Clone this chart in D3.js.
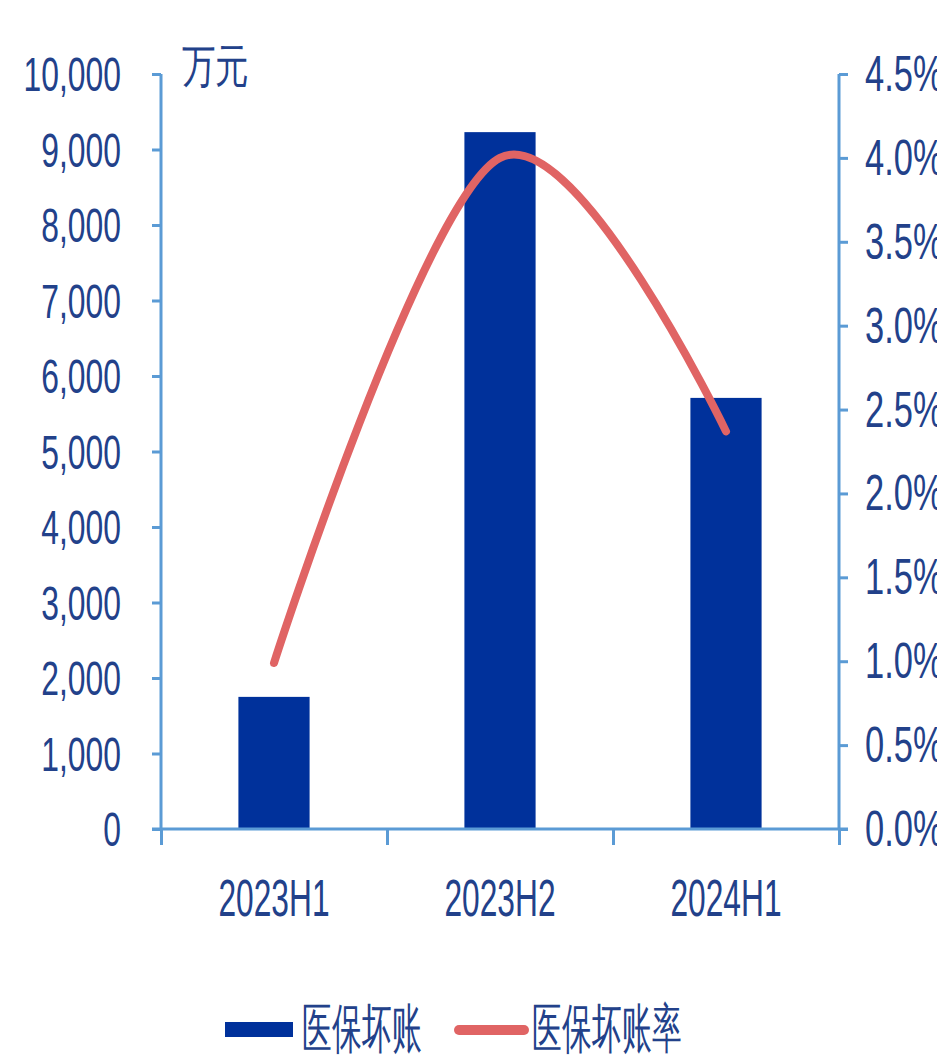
<!DOCTYPE html>
<html>
<head>
<meta charset="utf-8">
<script src="https://cdn.jsdelivr.net/npm/d3@7"></script>
<style>
  html, body { margin: 0; padding: 0; background: #fff; }
  svg { display: block; }
  text { font-family: "Liberation Sans", Arial, sans-serif; fill: #22418a; }
</style>
</head>
<body>
<svg id="chart" width="937" height="1059"></svg>
<script>
// Half-year periods
const categories = ["2023H1", "2023H2", "2024H1"];
// 医保坏账 (万元)
const badDebt = [1750, 9230, 5710];
// 医保坏账率
const badDebtRate = [0.0099, 0.0400, 0.0237];
// Axis ticks
const leftTicks = [0, 1000, 2000, 3000, 4000, 5000, 6000, 7000, 8000, 9000, 10000];
const rightTicks = [0, 0.005, 0.01, 0.015, 0.02, 0.025, 0.03, 0.035, 0.04, 0.045];
const seriesNames = ["医保坏账", "医保坏账率"];

const barColor = "#00319b";
const lineColor = "#e06464";
const axisColor = "#5b9bd5";

const svg = d3.select("#chart");
const plotLeft = 161, plotRight = 839, plotTop = 74, plotBottom = 829;

const x = d3.scaleBand().domain(categories).range([plotLeft, plotRight]).padding(0);
const y = d3.scaleLinear().domain([0, 10000]).range([plotBottom, plotTop]);
const y2 = d3.scaleLinear().domain([0, 0.045]).range([plotBottom, plotTop]);

const fmtL = d3.format(",");
const fmtR = d3.format(".1%");

// Condensed lettering: regular glyphs squeezed horizontally by sx
function squeezedText(g, tx, ty, str, size, anchor, sx) {
  return g.append("text")
    .attr("transform", `translate(${tx},${ty}) scale(${sx},1)`)
    .attr("text-anchor", anchor)
    .attr("font-size", size)
    .text(str);
}

// Bars
const barW = x.bandwidth() * 0.315;
svg.append("g").selectAll("rect")
  .data(categories)
  .join("rect")
  .attr("x", (d) => x(d) + (x.bandwidth() - barW) / 2)
  .attr("y", (d, i) => y(badDebt[i]))
  .attr("width", barW)
  .attr("height", (d, i) => y(0) - y(badDebt[i]))
  .attr("fill", barColor);

// Left axis
const gL = svg.append("g").attr("transform", `translate(${plotLeft},0)`)
  .call(d3.axisLeft(y).tickValues(leftTicks).tickSize(9).tickFormat(""));
// Right axis
const gR = svg.append("g").attr("transform", `translate(${plotRight},0)`)
  .call(d3.axisRight(y2).tickValues(rightTicks).tickSize(9).tickFormat(""));
// Bottom axis with ticks at category boundaries
const boundaries = categories.map((c) => x(c)).concat([plotRight]);
const gB = svg.append("g").attr("transform", `translate(0,${plotBottom})`)
  .call(d3.axisBottom(d3.scaleLinear().domain([plotLeft, plotRight]).range([plotLeft, plotRight]))
    .tickValues(boundaries).tickSize(16).tickFormat(""));

[gL, gR, gB].forEach((g) => {
  g.select(".domain").attr("stroke", axisColor).attr("stroke-width", 3);
  g.selectAll(".tick line").attr("stroke", axisColor).attr("stroke-width", 3);
});
gL.select(".domain").attr("d", `M0,${plotBottom}V${plotTop}`);
gR.select(".domain").attr("d", `M0,${plotBottom}V${plotTop}`);
gB.select(".domain").attr("d", `M${plotLeft - 9},0H${plotRight + 9}`);

// Tick labels
leftTicks.forEach((v) => squeezedText(svg, 121, y(v) + 17, fmtL(v), 49, "end", 0.65));
rightTicks.forEach((v) => squeezedText(svg, 865, y2(v) + 17, fmtR(v), 50, "start", 0.69));
categories.forEach((c) => squeezedText(svg, x(c) + x.bandwidth() / 2, 916, c, 52, "middle", 0.61));

// Unit label
svg.append("text")
  .attr("transform", `translate(182,82) scale(0.73,1)`)
  .attr("font-size", 46)
  .attr("font-family", "Noto Sans CJK SC")
  .text("万元");

// Rate line (smoothed)
const line = d3.line()
  .x((d, i) => x(categories[i]) + x.bandwidth() / 2)
  .y((d) => y2(d))
  .curve(d3.curveCardinal.tension(0));
svg.append("path")
  .datum(badDebtRate)
  .attr("d", line)
  .attr("fill", "none")
  .attr("stroke", lineColor)
  .attr("stroke-width", 8)
  .attr("stroke-linecap", "round");

// Legend
const lg = svg.append("g");
lg.append("rect").attr("x", 225).attr("y", 1022).attr("width", 68).attr("height", 15).attr("fill", barColor);
lg.append("text")
  .attr("transform", `translate(302,1047) scale(0.55,1)`)
  .attr("font-size", 54)
  .attr("font-family", "Noto Sans CJK SC")
  .text(seriesNames[0]);
lg.append("line").attr("x1", 459).attr("x2", 524).attr("y1", 1030).attr("y2", 1030)
  .attr("stroke", lineColor).attr("stroke-width", 10).attr("stroke-linecap", "round");
lg.append("text")
  .attr("transform", `translate(532,1047) scale(0.55,1)`)
  .attr("font-size", 54)
  .attr("font-family", "Noto Sans CJK SC")
  .text(seriesNames[1]);
</script>
</body>
</html>
